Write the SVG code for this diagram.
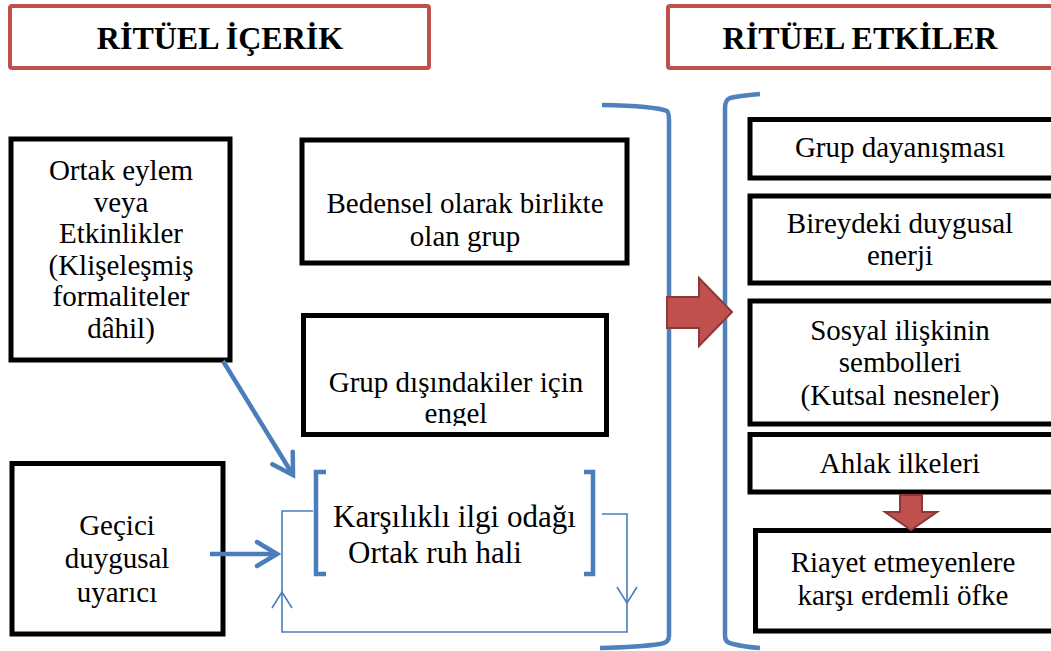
<svg xmlns="http://www.w3.org/2000/svg" width="1051" height="651" viewBox="0 0 1051 651">
<style>
.hdr{fill:#fff;stroke:#C0504D;stroke-width:4}
.hdrt{font-family:"Liberation Serif","Times New Roman",serif;font-weight:bold;font-size:32px;fill:#000;text-anchor:middle}
.box{fill:#fff;stroke:#000;stroke-width:5}
.t{font-family:"Liberation Serif","Times New Roman",serif;font-size:29px;fill:#000;text-anchor:middle}
.tb{font-family:"Liberation Serif","Times New Roman",serif;font-size:31px;fill:#000}
.brace{fill:none;stroke:#4F81BD;stroke-width:4.5}
.thick{fill:none;stroke:#4A7EBB;stroke-width:4.5}
.thin{fill:none;stroke:#4A7EBB;stroke-width:1.6}
.block{fill:#C0504D;stroke:#8C3836;stroke-width:2;stroke-linejoin:miter}
</style>
<defs>
<marker id="ah" markerUnits="userSpaceOnUse" viewBox="-24 -16 28 32" refX="0" refY="0" markerWidth="28" markerHeight="32" orient="auto">
<path d="M-20,-12 L0,0 L-20,12" fill="none" stroke="#4A7EBB" stroke-width="4.5" stroke-linecap="round"/>
</marker>
<clipPath id="clipC"><rect x="300" y="300" width="320" height="126"/></clipPath>
</defs>

<g id="header-icerik">
<rect class="hdr" x="10" y="6" width="419" height="62" rx="2"/>
<text class="hdrt" x="220" y="49">RİTÜEL İÇERİK</text>
</g>
<g id="header-etkiler">
<rect class="hdr" x="668" y="6" width="400" height="62" rx="2"/>
<text class="hdrt" x="860" y="49">RİTÜEL ETKİLER</text>
</g>

<g id="node-ortak-eylem">
<rect class="box" x="11" y="139" width="219" height="221"/>
<text class="t" x="121" y="180">Ortak eylem</text>
<text class="t" x="121" y="212">veya</text>
<text class="t" x="121" y="243">Etkinlikler</text>
<text class="t" x="121" y="275">(Klişeleşmiş</text>
<text class="t" x="121" y="306">formaliteler</text>
<text class="t" x="121" y="338">dâhil)</text>
</g>

<g id="node-bedensel">
<rect class="box" x="302" y="140" width="325" height="123"/>
<text class="t" x="465" y="213">Bedensel olarak birlikte</text>
<text class="t" x="465" y="246">olan grup</text>
</g>

<g id="node-engel">
<rect class="box" x="303.5" y="315.5" width="303" height="119"/>
<g clip-path="url(#clipC)">
<text class="t" x="456" y="392">Grup dışındakiler için</text>
<text class="t" x="456" y="423">engel</text>
</g>
</g>

<g id="node-gecici">
<rect class="box" x="12" y="463.5" width="211" height="170.5"/>
<text class="t" x="117" y="535">Geçici</text>
<text class="t" x="117" y="568">duygusal</text>
<text class="t" x="117" y="602">uyarıcı</text>
</g>

<g id="node-odak">
<path class="thick" d="M326,472 L316,472 L316,574 L326,574"/>
<path class="thick" d="M584,472 L593,472 L593,574 L584,574"/>
<text class="tb" x="333" y="527">Karşılıklı ilgi odağı</text>
<text class="tb" x="348" y="563">Ortak ruh hali</text>
</g>

<g id="node-dayanisma">
<rect class="box" x="750" y="119.5" width="320" height="58.5"/>
<text class="t" x="900" y="157">Grup dayanışması</text>
</g>
<g id="node-enerji">
<rect class="box" x="750" y="196" width="320" height="87"/>
<text class="t" x="900" y="233">Bireydeki duygusal</text>
<text class="t" x="900" y="265">enerji</text>
</g>
<g id="node-semboller">
<rect class="box" x="750" y="301" width="320" height="123"/>
<text class="t" x="900" y="340">Sosyal ilişkinin</text>
<text class="t" x="900" y="372">sembolleri</text>
<text class="t" x="900" y="405">(Kutsal nesneler)</text>
</g>
<g id="node-ahlak">
<rect class="box" x="750" y="434.5" width="320" height="57.5"/>
<text class="t" x="900" y="473">Ahlak ilkeleri</text>
</g>
<g id="node-ofke">
<rect class="box" x="755.5" y="530.5" width="320" height="100.5"/>
<text class="t" x="903" y="572">Riayet etmeyenlere</text>
<text class="t" x="903" y="605">karşı erdemli öfke</text>
</g>

<g id="connectors">
<path class="brace" d="M602,105 Q655,106 667,111 Q669,113 669,120 L669,636 Q669,643 660,644 Q640,647 600,648"/>
<path class="brace" d="M760,94 Q738,96 730,98 Q725,100 725,108 L725,636 Q725,643 733,644 Q745,647 760,648"/>
<path class="block" d="M667,297 L699,297 L699,278 L732,312 L699,346 L699,328 L667,328 Z"/>
<path class="block" d="M900,495 L922,495 L922,512 L937,512 L911,530 L885,512 L900,512 Z"/>
<line class="thick" x1="223" y1="361" x2="293" y2="475" marker-end="url(#ah)"/>
<line class="thick" x1="210" y1="554" x2="277" y2="554" marker-end="url(#ah)"/>
<path class="thin" d="M313,511 L282,511 L282,632 L627,632 L627,514 L602,514"/>
<path class="thin" d="M617,587 L627,603 L637,587"/>
<path class="thin" d="M272,608 L282,592 L292,608"/>
</g>
</svg>
